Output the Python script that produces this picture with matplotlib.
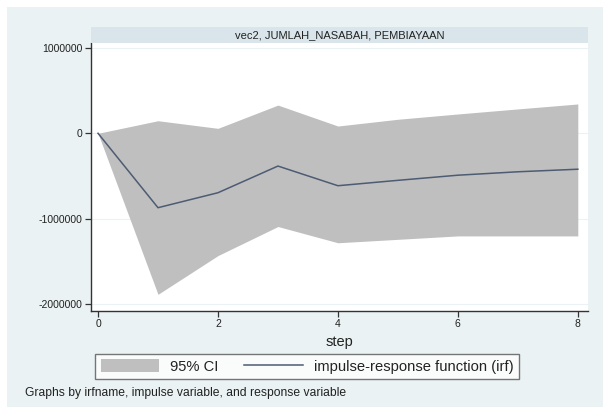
import matplotlib
matplotlib.use("Agg")
import matplotlib.pyplot as plt
from matplotlib.patches import Rectangle, Patch
from matplotlib.lines import Line2D

plt.rcParams['font.family'] = ['Liberation Sans', 'DejaVu Sans']

# irf vec2, impulse JUMLAH_NASABAH, response PEMBIAYAAN
step = [0, 1, 2, 3, 4, 5, 6, 7, 8]
irf = [0, -870000, -695000, -383000, -613000, -550000, -490000, -450000, -420000]
ci_upper = [0, 147000, 58000, 330000, 85000, 164000, 226000, 285000, 343000]
ci_lower = [0, -1883000, -1430000, -1090000, -1280000, -1240000, -1200000, -1200000, -1200000]

yticks = [-2000000, -1000000, 0, 1000000]
xticks = [0, 2, 4, 6, 8]

W, H = 603, 407
fig = plt.figure(figsize=(W / 100, H / 100), dpi=100)
fig.patch.set_facecolor("white")
# stata graph region (light blue-grey), white strip on left/top
fig.patches.append(Rectangle((7 / W, 0), 1, 1 - 7 / H, transform=fig.transFigure,
                             facecolor="#eaf2f3", edgecolor="none", zorder=-10))

ax = fig.add_axes([91 / W, 1 - 311 / H, (588 - 91) / W, (311 - 43) / H])
ax.set_facecolor("white")

ax.fill_between(step, ci_lower, ci_upper, color="#bfbfbf", linewidth=0, zorder=2)
ax.plot(step, irf, color="#4d5b73", linewidth=1.1, zorder=3)

ax.set_xlim(-0.117, 8.17)
ax.set_ylim(-2078000, 1056000)
ax.set_yticks(yticks)
ax.set_yticklabels([str(v) for v in yticks])
ax.set_xticks(xticks)
ax.grid(axis="y", color="#eaf2f3", linewidth=0.8, zorder=1)
ax.set_axisbelow(True)

for s in ["top", "right"]:
    ax.spines[s].set_visible(False)
for s in ["left", "bottom"]:
    ax.spines[s].set_color("#333333")
    ax.spines[s].set_linewidth(1.0)
ax.tick_params(axis="both", direction="out", length=4, width=0.9, color="#333333",
               labelsize=7.5, labelcolor="#222222", pad=2)
ax.set_xlabel("step", fontsize=10.5, color="#222222", labelpad=4)

# subtitle strip
strip = fig.add_axes([91 / W, 1 - 43 / H, (588 - 91) / W, 16 / H])
strip.set_facecolor("#d9e5ea")
strip.set_xticks([])
strip.set_yticks([])
for s in strip.spines.values():
    s.set_visible(False)
strip.text(0.5, 0.5, "vec2, JUMLAH_NASABAH, PEMBIAYAAN", ha="center", va="center",
           fontsize=8, color="#222222", transform=strip.transAxes)

handles = [Patch(facecolor="#bfbfbf", edgecolor="none"),
           Line2D([], [], color="#4d5b73", linewidth=1.1)]
leg = fig.legend(handles, ["95% CI", "impulse-response function (irf)"],
                 loc="center", bbox_to_anchor=(307 / W, 1 - 366.5 / H), ncol=2,
                 fontsize=10.6, frameon=True, fancybox=False, handlelength=4.0,
                 handleheight=0.9, columnspacing=1.7, handletextpad=0.75,
                 borderpad=0.35, borderaxespad=0)
leg.get_frame().set_edgecolor("#555555")
leg.get_frame().set_linewidth(1.0)
for t in leg.get_texts():
    t.set_color("#222222")

fig.text(25 / W, 1 - 393 / H, "Graphs by irfname, impulse variable, and response variable",
         ha="left", va="center", fontsize=8.7, color="#222222")

fig.savefig("out.png", dpi=100, facecolor=fig.get_facecolor())
